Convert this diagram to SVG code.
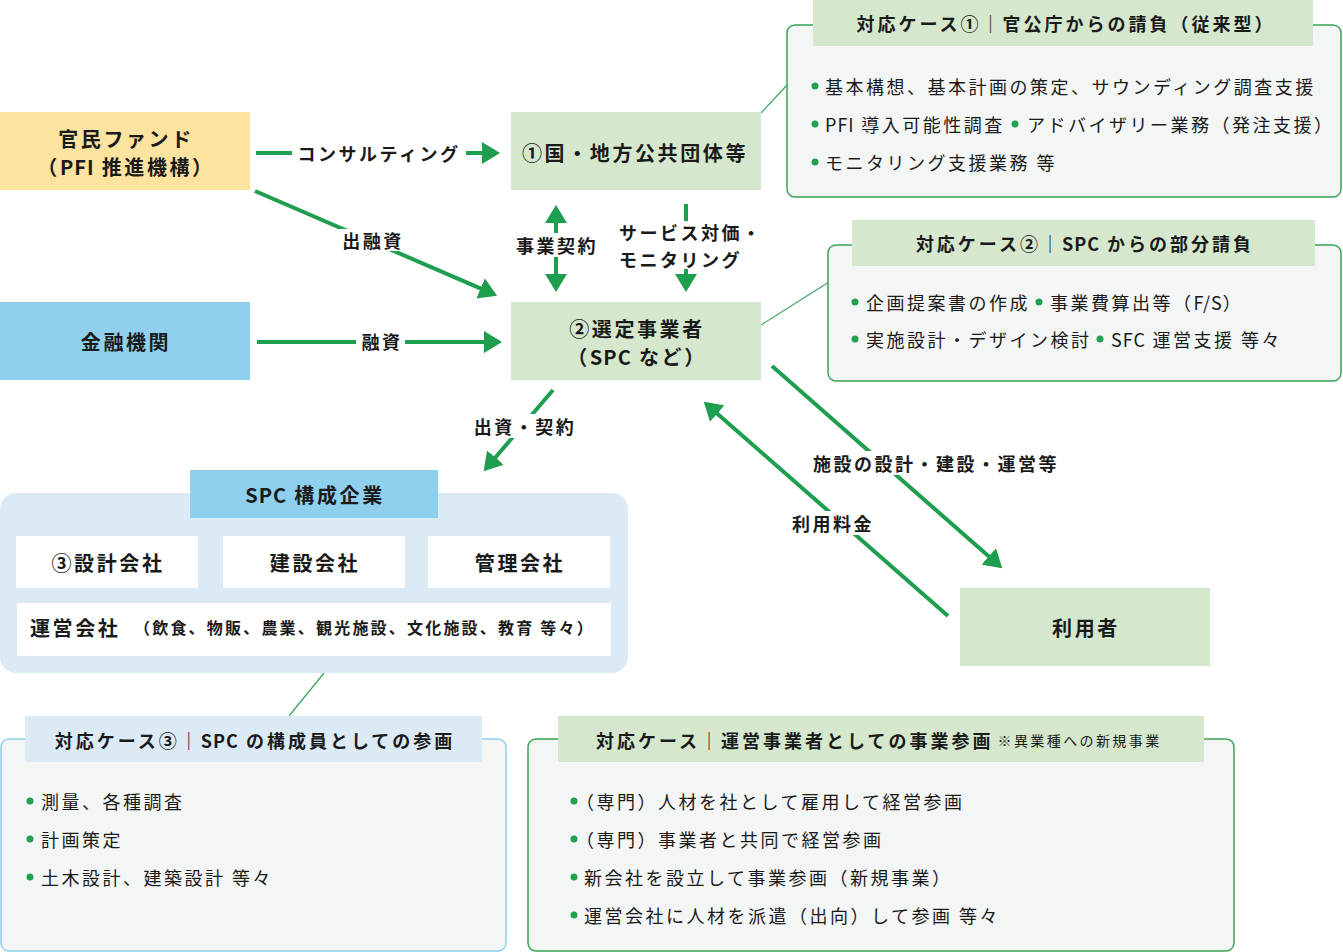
<svg xmlns="http://www.w3.org/2000/svg" width="1343" height="952" viewBox="0 0 1343 952">
<style>
.t{font-family:"Noto Sans CJK JP","Noto Sans",sans-serif;fill:#1a1a1a;dominant-baseline:central}
.c{text-anchor:middle}
.node{font-size:20px;font-weight:700;letter-spacing:2.6px}
.lbl{font-size:18px;font-weight:700;letter-spacing:2.5px}
.hdr{font-size:18px;font-weight:700;letter-spacing:3px}
.item{font-size:18px;font-weight:400;letter-spacing:2.5px}
.small{font-size:16px;font-weight:700;letter-spacing:2.2px}
.note{font-size:14px;font-weight:400;letter-spacing:2.4px}
.lat{letter-spacing:1px}
.conn{stroke:#1E9E4F;stroke-width:4;fill:none}
.thin{stroke:#3AA35B;stroke-width:1.2;fill:none}
.lb{fill:#ffffff}
.dot{fill:#22A150}
.g{fill:#D5E8CE}
.casebox{fill:#F4F6F5;stroke:#3AA35B;stroke-width:1.5}
.caseboxb{fill:#F4F6F5;stroke:#8ED0EE;stroke-width:1.5}
</style>
<defs>
<marker id="ah" viewBox="0 0 18 22" refX="1" refY="11" markerWidth="18" markerHeight="22" markerUnits="userSpaceOnUse" orient="auto-start-reverse">
<path d="M0,0 L18,11 L0,22 Z" fill="#1E9E4F"/>
</marker>
</defs>

<g id="connectors">
<line class="thin" x1="761" y1="113" x2="788" y2="84"/>
<line class="thin" x1="761" y1="325" x2="829" y2="282"/>
<line class="thin" x1="324" y1="673" x2="289" y2="716"/>

<line class="conn" x1="256" y1="153" x2="483" y2="153" marker-end="url(#ah)"/>
<line class="conn" x1="255" y1="191" x2="481.5" y2="288.9" marker-end="url(#ah)"/>
<line class="conn" x1="257" y1="342" x2="485" y2="342" marker-end="url(#ah)"/>
<line class="conn" x1="556" y1="222" x2="556" y2="275" marker-start="url(#ah)" marker-end="url(#ah)"/>
<line class="conn" x1="686" y1="204" x2="686" y2="275" marker-end="url(#ah)"/>
<line class="conn" x1="553" y1="390" x2="494.7" y2="458.3" marker-end="url(#ah)"/>
<line class="conn" x1="772" y1="366" x2="989.5" y2="557.1" marker-end="url(#ah)"/>
<line class="conn" x1="948" y1="616" x2="716.5" y2="412.9" marker-end="url(#ah)"/>

<rect class="lb" x="292" y="141" width="174" height="24"/>
<text class="t lbl c" x="379" y="153">コンサルティング</text>
<rect class="lb" x="339" y="229" width="68" height="22"/>
<text class="t lbl c" x="373" y="240">出融資</text>
<rect class="lb" x="356" y="330" width="49" height="24"/>
<text class="t lbl c" x="382" y="341">融資</text>
<rect class="lb" x="510" y="233" width="92" height="24"/>
<text class="t lbl c" x="557" y="245">事業契約</text>
<rect class="lb" x="614" y="221" width="150" height="48"/>
<text class="t lbl"><tspan x="619" y="232">サービス対価・</tspan><tspan x="619" y="258.5">モニタリング</tspan></text>
<rect class="lb" x="470" y="414" width="109" height="24"/>
<text class="t lbl c" x="525" y="426">出資・契約</text>
<rect class="lb" x="806" y="451" width="257" height="24"/>
<text class="t lbl c" x="936" y="463">施設の設計・建設・運営等</text>
<rect class="lb" x="787" y="511" width="90" height="24"/>
<text class="t lbl c" x="833" y="523">利用料金</text>
</g>

<g id="node-fund">
<rect x="0" y="112" width="250" height="78" fill="#FCE3A0"/>
<text class="t node c" x="126" y="138">官民ファンド</text>
<text class="t node c" x="126" y="166">（<tspan class="lat">PFI</tspan> 推進機構）</text>
</g>

<g id="node-bank">
<rect x="0" y="302" width="250" height="78" fill="#8ED0EE"/>
<text class="t node c" x="126" y="341">金融機関</text>
</g>

<g id="node-gov">
<rect class="g" x="511" y="112" width="250" height="78"/>
<text class="t node c" x="635" y="152">①国・地方公共団体等</text>
</g>

<g id="node-spc">
<rect class="g" x="511" y="302" width="250" height="78"/>
<text class="t node c" x="637" y="328">②選定事業者</text>
<text class="t node c" x="637" y="356">（<tspan class="lat">SPC</tspan> など）</text>
</g>

<g id="node-user">
<rect class="g" x="960" y="588" width="250" height="78"/>
<text class="t node c" x="1086" y="627">利用者</text>
</g>

<g id="node-members">
<rect x="0" y="493" width="628" height="180" rx="16" fill="#DCEAF6"/>
<rect x="190" y="470" width="248" height="48" fill="#8ED0EE"/>
<text class="t node c" x="315" y="494"><tspan class="lat">SPC</tspan> 構成企業</text>
<rect x="16" y="536" width="182" height="52" fill="#ffffff"/>
<text class="t node c" x="108" y="562">③設計会社</text>
<rect x="223" y="536" width="182" height="52" fill="#ffffff"/>
<text class="t node c" x="315" y="562">建設会社</text>
<rect x="428" y="536" width="182" height="52" fill="#ffffff"/>
<text class="t node c" x="520" y="562">管理会社</text>
<rect x="17" y="603" width="594" height="53" fill="#ffffff"/>
<text class="t node" x="30" y="627">運営会社</text>
<text class="t small" x="134" y="627">（飲食、物販、農業、観光施設、文化施設、教育 等々）</text>
</g>

<g id="case1">
<rect class="casebox" x="787" y="25" width="554" height="172" rx="8"/>
<rect class="g" x="813" y="0" width="500" height="46"/>
<text class="t hdr c" x="1066" y="23">対応ケース①｜官公庁からの請負（従来型）</text>
<circle class="dot" cx="815" cy="86" r="3.5"/>
<text class="t item" x="825" y="86">基本構想、基本計画の策定、サウンディング調査支援</text>
<circle class="dot" cx="815" cy="124" r="3.5"/>
<text class="t item" x="825" y="124"><tspan class="lat">PFI</tspan> 導入可能性調査</text>
<circle class="dot" cx="1015" cy="124" r="3.5"/>
<text class="t item" x="1027" y="124">アドバイザリー業務（発注支援）</text>
<circle class="dot" cx="815" cy="162" r="3.5"/>
<text class="t item" x="825" y="162">モニタリング支援業務 等</text>
</g>

<g id="case2">
<rect class="casebox" x="828" y="245" width="513" height="136" rx="8"/>
<rect class="g" x="852" y="220" width="463" height="46"/>
<text class="t hdr c" x="1085" y="243">対応ケース②｜<tspan class="lat">SPC</tspan> からの部分請負</text>
<circle class="dot" cx="855" cy="302" r="3.5"/>
<text class="t item" x="866" y="302">企画提案書の作成</text>
<circle class="dot" cx="1039" cy="302" r="3.5"/>
<text class="t item" x="1050" y="302">事業費算出等（<tspan class="lat">F/S</tspan>）</text>
<circle class="dot" cx="855" cy="339" r="3.5"/>
<text class="t item" x="866" y="339">実施設計・デザイン検討</text>
<circle class="dot" cx="1100" cy="339" r="3.5"/>
<text class="t item" x="1111" y="339"><tspan class="lat">SFC</tspan> 運営支援 等々</text>
</g>

<g id="case3">
<rect class="caseboxb" x="1" y="739" width="505" height="212" rx="8"/>
<rect x="25" y="716" width="457" height="46" fill="#DCEAF6"/>
<text class="t hdr c" x="255" y="740">対応ケース③｜<tspan class="lat">SPC</tspan> の構成員としての参画</text>
<circle class="dot" cx="30" cy="801" r="3.5"/>
<text class="t item" x="41" y="801">測量、各種調査</text>
<circle class="dot" cx="30" cy="839" r="3.5"/>
<text class="t item" x="41" y="839">計画策定</text>
<circle class="dot" cx="30" cy="877" r="3.5"/>
<text class="t item" x="41" y="877">土木設計、建築設計 等々</text>
</g>

<g id="case4">
<rect class="casebox" x="528" y="739" width="706" height="212" rx="8"/>
<rect class="g" x="558" y="716" width="646" height="46"/>
<text class="t hdr" x="596" y="740">対応ケース｜運営事業者としての事業参画<tspan class="note" dx="4">※異業種への新規事業</tspan></text>
<circle class="dot" cx="574" cy="801" r="3.5"/>
<text class="t item" x="576" y="801">（専門）人材を社として雇用して経営参画</text>
<circle class="dot" cx="574" cy="839" r="3.5"/>
<text class="t item" x="576" y="839">（専門）事業者と共同で経営参画</text>
<circle class="dot" cx="574" cy="877" r="3.5"/>
<text class="t item" x="584" y="877">新会社を設立して事業参画（新規事業）</text>
<circle class="dot" cx="574" cy="915" r="3.5"/>
<text class="t item" x="584" y="915">運営会社に人材を派遣（出向）して参画 等々</text>
</g>
</svg>
